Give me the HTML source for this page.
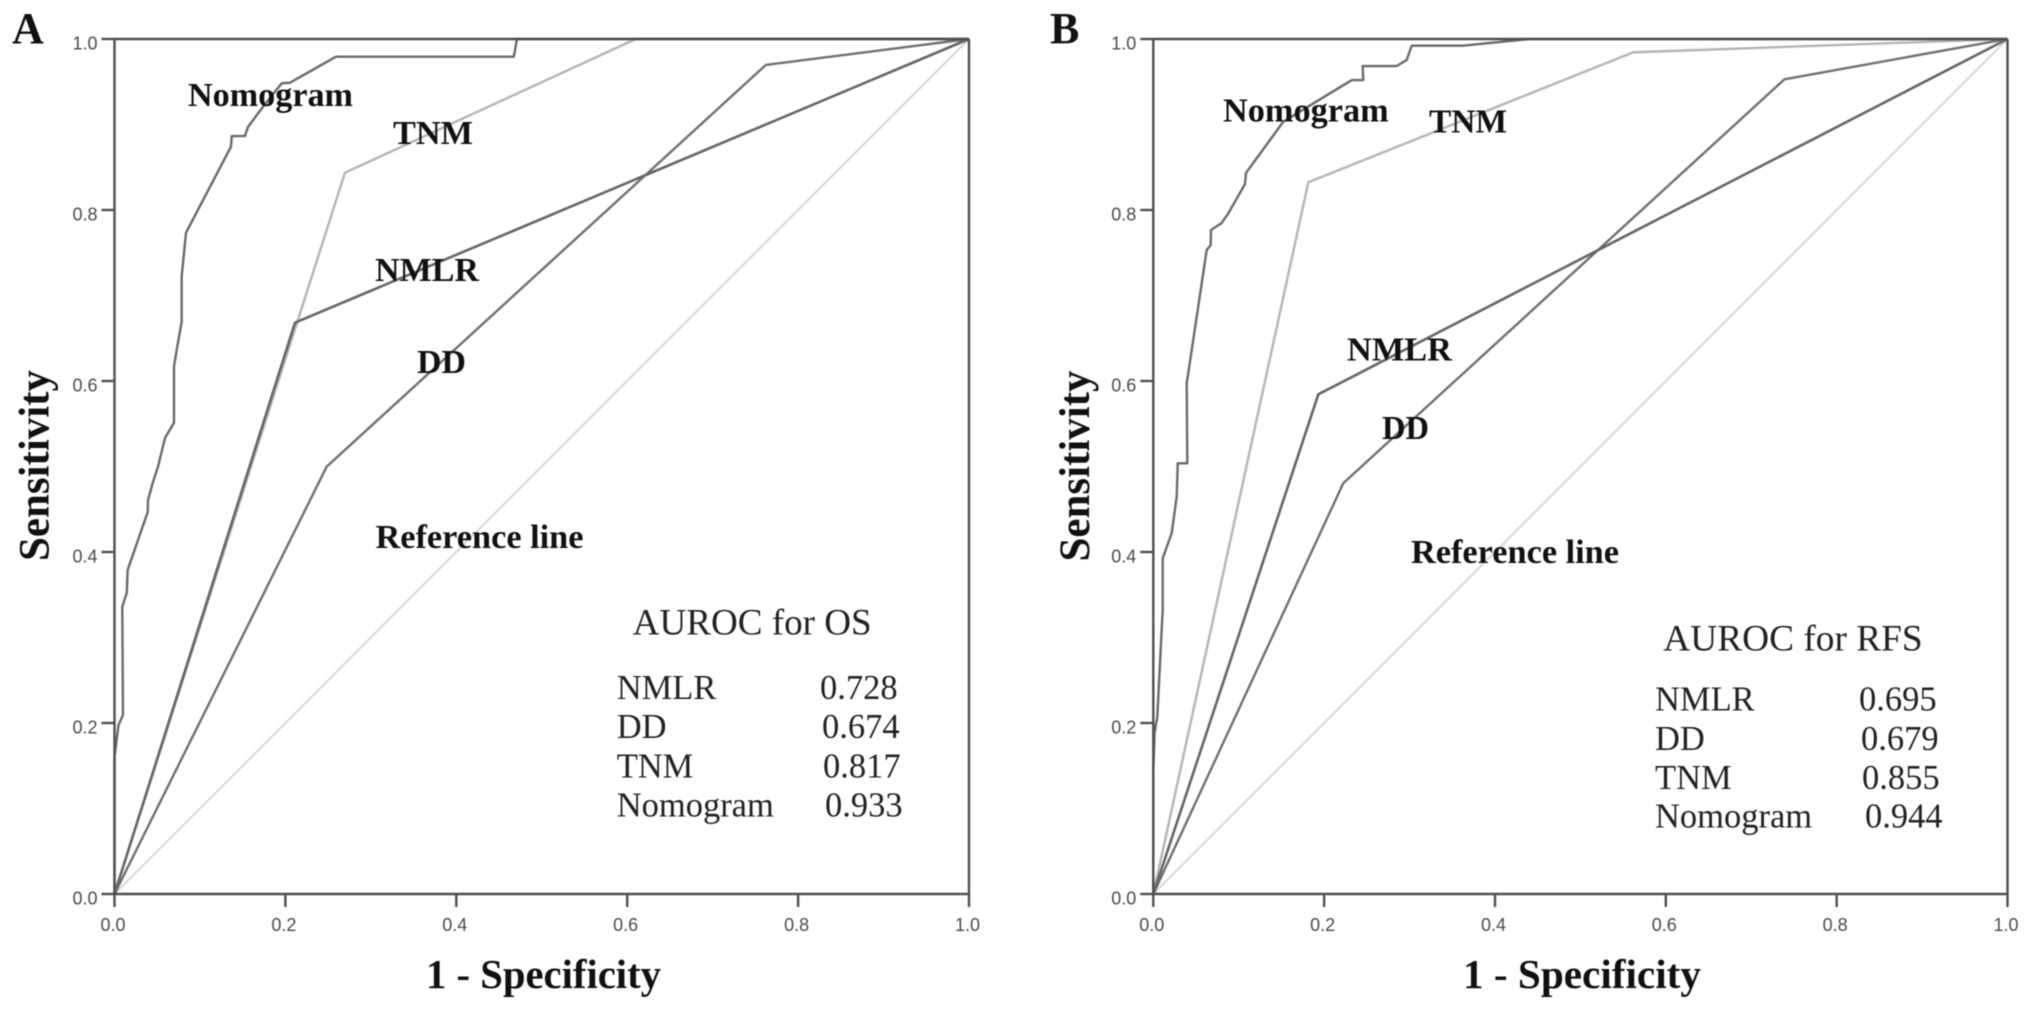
<!DOCTYPE html>
<html lang="en">
<head>
<meta charset="utf-8">
<title>ROC curves for OS and RFS</title>
<style>
html,body{margin:0;padding:0;background:#fff;}
body{width:2031px;height:1009px;overflow:hidden;}
svg{display:block;filter:blur(0.45px);}
.bold{font-family:"Liberation Serif",serif;font-weight:700;fill:#111;}
.reg{font-family:"Liberation Serif",serif;font-weight:400;fill:#222;}
.lbl{font-size:34px;}
.tick{font-family:"Liberation Sans",sans-serif;font-size:18px;fill:#4a4a4a;}
</style>
</head>
<body>
<svg id="figure" width="2031" height="1009" viewBox="0 0 2031 1009" xmlns="http://www.w3.org/2000/svg">
  <rect x="0" y="0" width="2031" height="1009" fill="#ffffff"/>

  <g id="chart-a"></g>
  <g id="chart-b"></g>

  <g>
    <text class="bold" x="12" y="43" font-size="44">A</text>
    <text class="bold" font-size="43" transform="translate(48.5 561) rotate(-90)" textLength="191" lengthAdjust="spacingAndGlyphs">Sensitivity</text>
    <text class="bold" x="426" y="988" font-size="41" textLength="235" lengthAdjust="spacingAndGlyphs">1 - Specificity</text>
    <text class="bold lbl" x="188" y="106" textLength="165" lengthAdjust="spacingAndGlyphs">Nomogram</text>
    <text class="bold lbl" x="393" y="144" textLength="80" lengthAdjust="spacingAndGlyphs">TNM</text>
    <text class="bold lbl" x="375" y="281" textLength="104" lengthAdjust="spacingAndGlyphs">NMLR</text>
    <text class="bold lbl" x="417" y="373" textLength="49" lengthAdjust="spacingAndGlyphs">DD</text>
    <text class="bold" x="375.5" y="548" font-size="34" textLength="208" lengthAdjust="spacingAndGlyphs">Reference line</text>
    <text class="reg" x="632.7" y="634.3" font-size="37" textLength="239" lengthAdjust="spacingAndGlyphs">AUROC for OS</text>
    <text class="reg" x="616.7" y="699" font-size="34.5">NMLR</text>
    <text class="reg" x="820" y="699" font-size="34.5">0.728</text>
    <text class="reg" x="616.7" y="738" font-size="34.5">DD</text>
    <text class="reg" x="822" y="738" font-size="34.5">0.674</text>
    <text class="reg" x="616.7" y="777.7" font-size="34.5">TNM</text>
    <text class="reg" x="823" y="777.7" font-size="34.5">0.817</text>
    <text class="reg" x="616.7" y="816.7" font-size="34.5">Nomogram</text>
    <text class="reg" x="825" y="816.7" font-size="34.5">0.933</text>
  </g>

  <g>
    <text class="bold" x="1050" y="43" font-size="44">B</text>
    <text class="bold" font-size="43" transform="translate(1089 561.5) rotate(-90)" textLength="191" lengthAdjust="spacingAndGlyphs">Sensitivity</text>
    <text class="bold" x="1463" y="988" font-size="41" textLength="238" lengthAdjust="spacingAndGlyphs">1 - Specificity</text>
    <text class="bold lbl" x="1223" y="121.7" textLength="165.7" lengthAdjust="spacingAndGlyphs">Nomogram</text>
    <text class="bold lbl" x="1429" y="132.7" textLength="78" lengthAdjust="spacingAndGlyphs">TNM</text>
    <text class="bold lbl" x="1347" y="360.5" textLength="105" lengthAdjust="spacingAndGlyphs">NMLR</text>
    <text class="bold lbl" x="1382" y="439" textLength="47" lengthAdjust="spacingAndGlyphs">DD</text>
    <text class="bold" x="1411" y="563" font-size="34" textLength="208" lengthAdjust="spacingAndGlyphs">Reference line</text>
    <text class="reg" x="1663.3" y="650.7" font-size="37" textLength="259.4" lengthAdjust="spacingAndGlyphs">AUROC for RFS</text>
    <text class="reg" x="1655" y="710.7" font-size="34.5">NMLR</text>
    <text class="reg" x="1859" y="710.7" font-size="34.5">0.695</text>
    <text class="reg" x="1655" y="750" font-size="34.5">DD</text>
    <text class="reg" x="1861" y="750" font-size="34.5">0.679</text>
    <text class="reg" x="1655" y="789" font-size="34.5">TNM</text>
    <text class="reg" x="1862" y="789" font-size="34.5">0.855</text>
    <text class="reg" x="1655" y="827.7" font-size="34.5">Nomogram</text>
    <text class="reg" x="1865" y="827.7" font-size="34.5">0.944</text>
  </g>
</svg>

<script>
// Axis tick values and labels
const tickValues = [0, 0.2, 0.4, 0.6, 0.8, 1];
const tickLabels = ["0.0", "0.2", "0.4", "0.6", "0.8", "1.0"];

// Reference diagonal (shared)
const referenceX = [0, 1];
const referenceY = [0, 1];

// Panel A series (1 - specificity, sensitivity)
const aNomogramX = [0, 0, 0.0047, 0.0099, 0.0091, 0.0143, 0.0154, 0.0389, 0.0392, 0.0447, 0.0509, 0.0591, 0.0696, 0.0696, 0.0728, 0.0786, 0.0786, 0.0837, 0.1363, 0.1372, 0.1527, 0.1562, 0.1738, 0.1957, 0.2054, 0.2592, 0.4673, 0.4710, 1];
const aNomogramY = [0, 0.1602, 0.1977, 0.2094, 0.336, 0.352, 0.379, 0.4468, 0.4608, 0.4807, 0.4998, 0.5333, 0.5512, 0.6167, 0.6363, 0.6694, 0.722, 0.7735, 0.874, 0.8865, 0.8865, 0.8971, 0.9208, 0.9482, 0.9489, 0.9793, 0.9793, 1, 1];
const aTnmX = [0, 0.2697, 0.61, 1];
const aTnmY = [0, 0.8436, 1, 1];
const aNmlrX = [0, 0.2112, 1];
const aNmlrY = [0, 0.6682, 1];
const aDdX = [0, 0.2483, 0.7622, 1];
const aDdY = [0, 0.4998, 0.9696, 1];

// Panel B series (1 - specificity, sensitivity)
const bNomogramX = [0, 0, 0.0015, 0.0047, 0.011, 0.011, 0.0215, 0.0274, 0.0286, 0.0398, 0.0391, 0.045, 0.0625, 0.0672, 0.0675, 0.0801, 0.0878, 0.1074, 0.1085, 0.1522, 0.2323, 0.2458, 0.2451, 0.2849, 0.2966, 0.3025, 0.3626, 0.44, 1];
const bNomogramY = [0, 0.145, 0.1883, 0.2074, 0.3322, 0.3926, 0.4219, 0.4647, 0.5037, 0.5037, 0.5973, 0.6363, 0.7532, 0.7591, 0.7766, 0.7848, 0.7961, 0.8304, 0.8433, 0.9033, 0.952, 0.952, 0.9684, 0.9684, 0.9754, 0.9922, 0.9922, 1, 1];
const bTnmX = [0, 0.1815, 0.5616, 1];
const bTnmY = [0, 0.8324, 0.9844, 1];
const bNmlrX = [0, 0.1932, 1];
const bNmlrY = [0, 0.5844, 1];
const bDdX = [0, 0.2224, 0.7389, 1];
const bDdY = [0, 0.4804, 0.9529, 1];

const SVG_NS = "http://www.w3.org/2000/svg";

function makeAxes(x0, x1) {
  return {
    x: function (v) { return x0 + v * (x1 - x0); },
    y: function (v) { return 894 - v * 855; }
  };
}

function drawCurve(group, axes, xs, ys, name, color, width) {
  const pts = xs.map(function (v, i) {
    return axes.x(v).toFixed(2) + "," + axes.y(ys[i]).toFixed(2);
  }).join(" ");
  const line = document.createElementNS(SVG_NS, "polyline");
  
  
  line.setAttribute("points", pts);
  line.setAttribute("fill", "none");
  line.setAttribute("stroke", color);
  line.setAttribute("stroke-width", width);
  line.setAttribute("stroke-linejoin", "round");
  group.appendChild(line);
}

function drawSegment(group, x1, y1, x2, y2, name, width) {
  const seg = document.createElementNS(SVG_NS, "line");
  
  
  seg.setAttribute("x1", x1);
  seg.setAttribute("y1", y1);
  seg.setAttribute("x2", x2);
  seg.setAttribute("y2", y2);
  seg.setAttribute("stroke", "#4f4f4f");
  seg.setAttribute("stroke-width", width);
  group.appendChild(seg);
}

function drawTickLabel(group, x, y, anchor, text, name) {
  const t = document.createElementNS(SVG_NS, "text");
  
  
  t.setAttribute("class", "tick");
  t.setAttribute("x", x);
  t.setAttribute("y", y);
  t.setAttribute("text-anchor", anchor);
  t.textContent = text;
  group.appendChild(t);
}

function drawPanel(id, prefix, x0, x1, series) {
  const g = document.getElementById(id);
  const axes = makeAxes(x0, x1);

  drawCurve(g, axes, referenceX, referenceY, prefix + "-curve-reference", "#d6d6d6", 2);
  drawCurve(g, axes, series.tnmX, series.tnmY, prefix + "-curve-tnm", "#b4b4b4", 2.4);
  drawCurve(g, axes, series.ddX, series.ddY, prefix + "-curve-dd", "#707070", 2.4);
  drawCurve(g, axes, series.nmlrX, series.nmlrY, prefix + "-curve-nmlr", "#666666", 2.6);
  drawCurve(g, axes, series.nomX, series.nomY, prefix + "-curve-nomogram", "#6a6a6a", 2.4);

  // Plot frame
  drawSegment(g, axes.x(0), axes.y(1), axes.x(1), axes.y(1), prefix + "-frame-top", 2.4);
  drawSegment(g, axes.x(1), axes.y(1), axes.x(1), axes.y(0), prefix + "-frame-right", 2.4);
  drawSegment(g, axes.x(0), axes.y(0), axes.x(1), axes.y(0), prefix + "-x-axis-line", 2.4);
  drawSegment(g, axes.x(0), axes.y(0), axes.x(0), axes.y(1), prefix + "-y-axis-line", 2.4);

  tickValues.forEach(function (v, i) {
    drawSegment(g, axes.x(v), axes.y(0), axes.x(v), axes.y(0) + 13, prefix + "-x-tick", 2.4);
    drawSegment(g, axes.x(0) - 13, axes.y(v), axes.x(0), axes.y(v), prefix + "-y-tick", 2.4);
    drawTickLabel(g, axes.x(v) - 1.5, 931, "middle", tickLabels[i], prefix + "-x-tick-label");
    drawTickLabel(g, axes.x(0) - 17, axes.y(v) + 10.5, "end", tickLabels[i], prefix + "-y-tick-label");
  });
}

drawPanel("chart-a", "panel-a", 114.5, 969, {
  nomX: aNomogramX, nomY: aNomogramY,
  tnmX: aTnmX, tnmY: aTnmY,
  nmlrX: aNmlrX, nmlrY: aNmlrY,
  ddX: aDdX, ddY: aDdY
});

drawPanel("chart-b", "panel-b", 1153.3, 2007.5, {
  nomX: bNomogramX, nomY: bNomogramY,
  tnmX: bTnmX, tnmY: bTnmY,
  nmlrX: bNmlrX, nmlrY: bNmlrY,
  ddX: bDdX, ddY: bDdY
});
</script>
</body>
</html>
